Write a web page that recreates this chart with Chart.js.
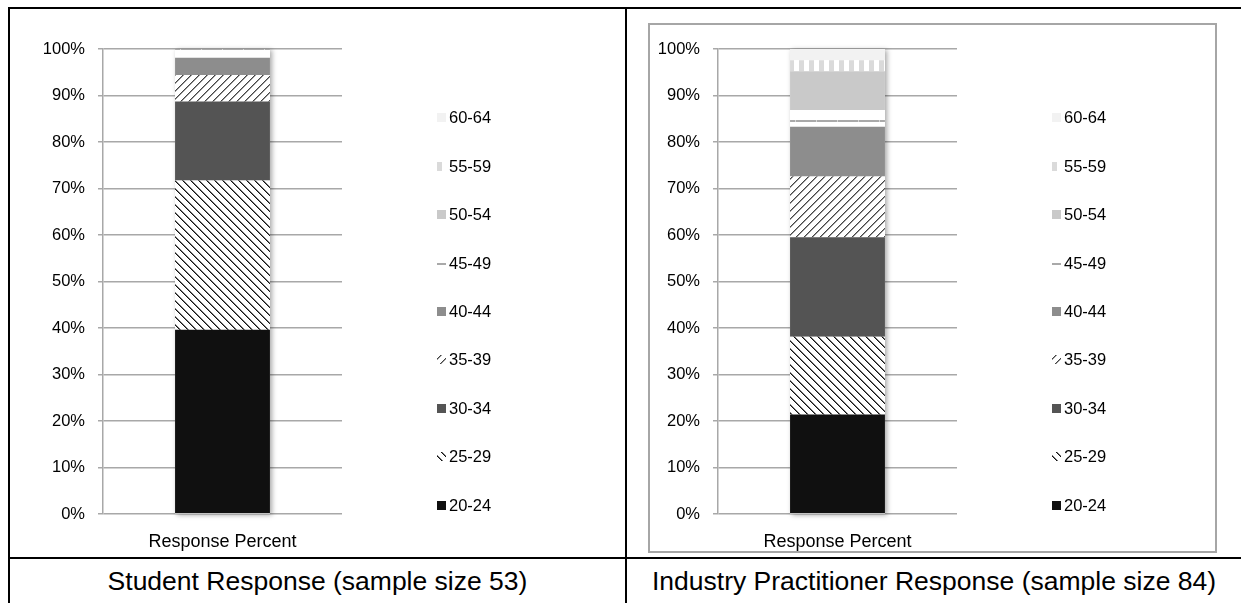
<!DOCTYPE html>
<html lang="en">
<head>
<meta charset="UTF-8">
<title>Respondent Age Groups</title>
<script src="https://cdn.jsdelivr.net/npm/chart.js"></script>
<style>
  body { margin: 0; background: #fff; font-family: 'Liberation Sans', Arial, sans-serif; }
  .page { position: relative; width: 1241px; height: 603px; overflow: hidden; }
  .rule { position: absolute; background: #000; }
  .frame { position: absolute; left: 648px; top: 23px; width: 565px; height: 526px; border: 2px solid #a6a6a6; }
  canvas { position: absolute; }
  .title { position: absolute; top: 566px; height: 30px; line-height: 30px; font-size: 26.5px; text-align: center; color: #000; white-space: nowrap; }
</style>
</head>
<body>
<div class="page">
  <div class="rule" style="left:8px; top:7px; width:1233px; height:2px;"></div>
  <div class="rule" style="left:8px; top:7px; width:2px; height:596px;"></div>
  <div class="rule" style="left:625px; top:7px; width:2px; height:596px;"></div>
  <div class="rule" style="left:8px; top:557px; width:1233px; height:2px;"></div>
  <div class="frame"></div>

  <canvas id="studentChart" width="567" height="528" style="left:34px; top:24px;"></canvas>
  <canvas id="industryChart" width="567" height="528" style="left:649px; top:24px;"></canvas>

  <div class="title" style="left:10px; width:615px;">Student Response (sample size 53)</div>
  <div class="title" style="left:627px; width:614px;">Industry Practitioner Response (sample size 84)</div>
</div>

<script>
// data (percent of respondents per age group)
const categories = ['Response Percent'];
const ageGroups = ['20-24', '25-29', '30-34', '35-39', '40-44', '45-49', '50-54', '55-59', '60-64'];
const studentPct = [39.6, 32.1, 17.0, 5.7, 3.7, 1.9, 0, 0, 0];
const industryPct = [21.4, 16.7, 21.4, 13.1, 10.7, 3.6, 8.3, 2.4, 2.4];

const FONT = "'Liberation Sans', Arial, sans-serif";
Chart.defaults.font.family = FONT;
Chart.defaults.font.size = 16.5;
Chart.defaults.color = '#000';

// small tiles for the excel style pattern fills
function tile(w, h, draw) {
    const c = document.createElement('canvas');
    c.width = w;
    c.height = h;
    const g = c.getContext('2d');
    g.fillStyle = '#fff';
    g.fillRect(0, 0, w, h);
    draw(g);
    return g.createPattern(c, 'repeat');
}
function px(g, x, y, col) {
    g.fillStyle = col;
    g.fillRect(x, y, 1, 1);
}

const downDiag = tile(8, 8, g => {
    for (let i = 0; i < 8; i++) {
        px(g, i, i, '#111');
        px(g, (i + 1) % 8, i, '#777');
    }
});
const upDiag = tile(8, 8, g => {
    for (let i = 0; i < 8; i++) {
        px(g, i, 7 - i, '#444');
        px(g, (i + 1) % 8, 7 - i, '#999');
    }
});
const hLines = tile(21, 12, g => {
    g.fillStyle = '#a9a9a9';
    g.fillRect(0, 0, 21, 2);
    g.fillStyle = '#d6d6d6';
    g.fillRect(20, 0, 1, 2);
});
const vStripes = tile(10, 4, g => {
    g.fillStyle = '#dadada';
    g.fillRect(0, 0, 5, 4);
});

const fills = ['#101010', downDiag, '#545454', upDiag, '#8d8d8d', hLines, '#c9c9c9', vStripes, '#f2f2f2'];

// soft shadow to the right of the stacked column
const shadowPlugin = {
    id: 'barShadow',
    beforeDatasetsDraw(chart) {
        const bar = chart.getDatasetMeta(0).data[0];
        const y = chart.scales.y;
        const ctx = chart.ctx;
        const top = y.getPixelForValue(100);
        ctx.save();
        ctx.shadowColor = 'rgba(0,0,0,0.35)';
        ctx.shadowBlur = 5;
        ctx.shadowOffsetX = 2;
        ctx.shadowOffsetY = 1;
        ctx.fillStyle = '#fff';
        ctx.fillRect(bar.x - bar.width / 2, top, bar.width, y.getPixelForValue(0) - top);
        ctx.restore();
    }
};

// legend column on the right, oldest group at top
const sideLegend = {
    id: 'sideLegend',
    afterDraw(chart) {
        const ctx = chart.ctx;
        const area = chart.chartArea;
        const mx = area.right + 95;
        ctx.save();
        ctx.font = '16.5px ' + FONT;
        ctx.textBaseline = 'middle';
        chart.data.datasets.forEach((ds, i) => {
            const cy = Math.round(area.bottom - 8.5 - i * 48.4);
            ctx.save();
            ctx.translate(mx, cy - 1);
            ctx.fillStyle = ds.backgroundColor;
            ctx.fillRect(0, -4, 9, 9);
            ctx.restore();
            ctx.fillStyle = '#000';
            ctx.fillText(ds.label, mx + 12, cy);
        });
        ctx.restore();
    }
};

function createChart(id, values) {
    const datasets = ageGroups.map((g, i) => ({
        label: g,
        data: [values[i]],
        backgroundColor: fills[i],
        borderWidth: 0,
        barPercentage: 0.397,
        categoryPercentage: 1
    }));
    return new Chart(document.getElementById(id), {
        type: 'bar',
        data: { labels: categories, datasets: datasets },
        options: {
            responsive: false,
            animation: false,
            devicePixelRatio: 1,
            layout: { padding: { top: 25, right: 259, left: 0, bottom: 0 } },
            plugins: { legend: { display: false }, tooltip: { enabled: false } },
            scales: {
                x: {
                    stacked: true,
                    grid: { display: false },
                    border: { display: false },
                    ticks: { padding: 9, font: { size: 18 } },
                    afterFit: s => { s.height = 38; }
                },
                y: {
                    stacked: true,
                    min: 0,
                    max: 100,
                    ticks: { stepSize: 10, padding: 13, callback: v => v + '%' },
                    grid: { color: '#a8a8a8', lineWidth: 1.5, tickLength: 5 },
                    border: { display: true, color: '#a8a8a8', width: 1.5 },
                    afterFit: s => { s.width = 69; }
                }
            }
        },
        plugins: [shadowPlugin, sideLegend]
    });
}

createChart('studentChart', studentPct);
createChart('industryChart', industryPct);
</script>
</body>
</html>
